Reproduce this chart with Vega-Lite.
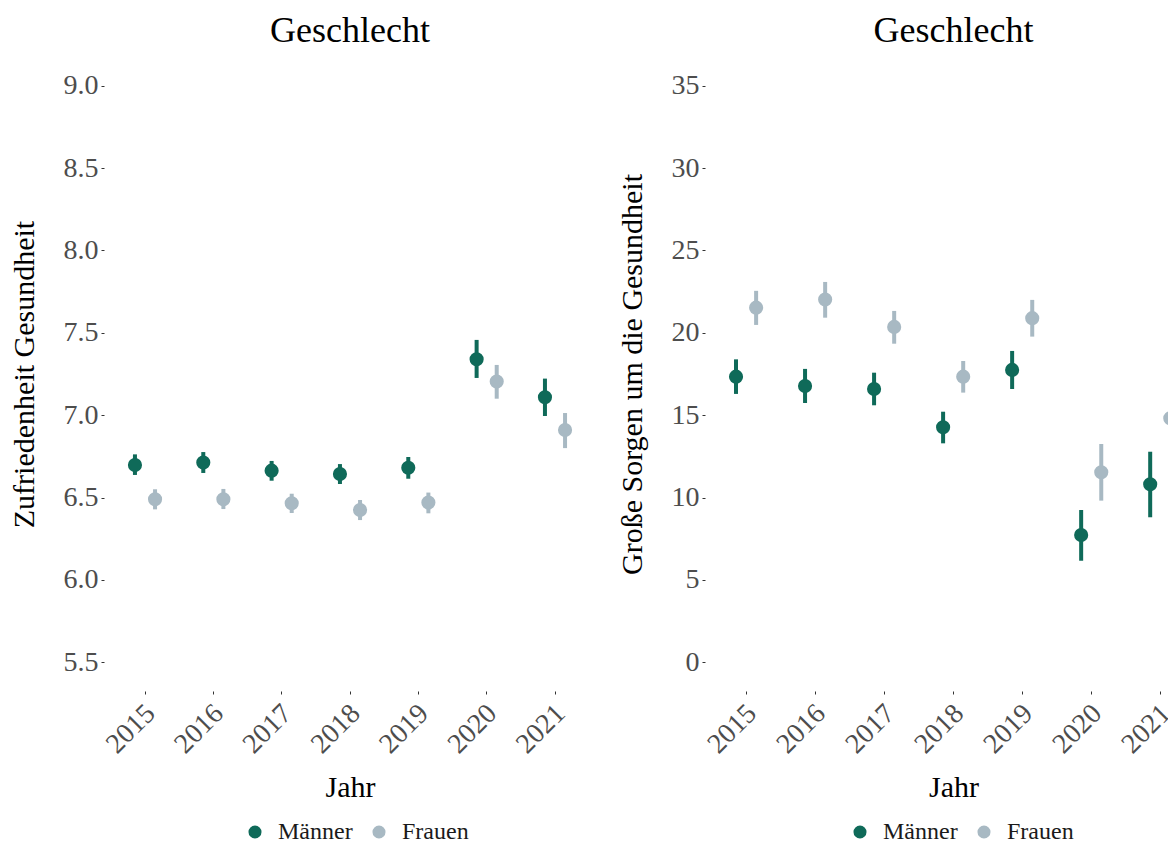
{
  "$schema": "https://vega.github.io/schema/vega-lite/v6.json",
  "background": "white",
  "padding": {"left": 9, "top": 13, "right": 0, "bottom": 0},
  "spacing": 21,
  "config": {
    "view": {"stroke": null},
    "font": "Liberation Serif",
    "style": {"guide-label": {"font": "Liberation Serif"}, "guide-title": {"font": "Liberation Serif"}, "group-title": {"font": "Liberation Serif"}},
    "axis": {
      "domain": false, "grid": false, "ticks": true, "tickSize": 3, "tickColor": "#333333", "tickWidth": 1,
      "labelColor": "#4D4D4D", "labelFontSize": 28, "labelFont": "Liberation Serif",
      "titleFontSize": 30, "titleFontWeight": "normal", "titleColor": "#000000", "titleFont": "Liberation Serif"
    },
    "axisX": {"labelAngle": -45, "labelAlign": "right", "labelBaseline": "top", "labelPadding": 5, "labelOffset": -4, "titlePadding": 14},
    "axisY": {"labelPadding": 3, "titlePadding": 24},
    "title": {"fontSize": 36, "font": "Liberation Serif", "fontWeight": "normal", "color": "#000000", "anchor": "middle", "offset": 7},
    "legend": {"labelFont": "Liberation Serif", "labelFontSize": 24, "labelColor": "#1A1A1A", "title": null}
  },
  "datasets": {
    "zuf": [
      {"Jahr": "2015", "Geschlecht": "Männer", "wert": 6.697, "lo": 6.637, "hi": 6.762},
      {"Jahr": "2016", "Geschlecht": "Männer", "wert": 6.712, "lo": 6.649, "hi": 6.776},
      {"Jahr": "2017", "Geschlecht": "Männer", "wert": 6.663, "lo": 6.602, "hi": 6.722},
      {"Jahr": "2018", "Geschlecht": "Männer", "wert": 6.643, "lo": 6.582, "hi": 6.703},
      {"Jahr": "2019", "Geschlecht": "Männer", "wert": 6.681, "lo": 6.614, "hi": 6.746},
      {"Jahr": "2020", "Geschlecht": "Männer", "wert": 7.339, "lo": 7.226, "hi": 7.457},
      {"Jahr": "2021", "Geschlecht": "Männer", "wert": 7.109, "lo": 6.995, "hi": 7.222},
      {"Jahr": "2015", "Geschlecht": "Frauen", "wert": 6.489, "lo": 6.428, "hi": 6.55},
      {"Jahr": "2016", "Geschlecht": "Frauen", "wert": 6.489, "lo": 6.43, "hi": 6.552},
      {"Jahr": "2017", "Geschlecht": "Frauen", "wert": 6.465, "lo": 6.406, "hi": 6.523},
      {"Jahr": "2018", "Geschlecht": "Frauen", "wert": 6.424, "lo": 6.363, "hi": 6.485},
      {"Jahr": "2019", "Geschlecht": "Frauen", "wert": 6.469, "lo": 6.404, "hi": 6.53},
      {"Jahr": "2020", "Geschlecht": "Frauen", "wert": 7.204, "lo": 7.1, "hi": 7.305},
      {"Jahr": "2021", "Geschlecht": "Frauen", "wert": 6.91, "lo": 6.8, "hi": 7.013}
    ],
    "sorgen": [
      {"Jahr": "2015", "Geschlecht": "Männer", "wert": 17.34, "lo": 16.29, "hi": 18.39},
      {"Jahr": "2016", "Geschlecht": "Männer", "wert": 16.77, "lo": 15.74, "hi": 17.81},
      {"Jahr": "2017", "Geschlecht": "Männer", "wert": 16.59, "lo": 15.6, "hi": 17.58},
      {"Jahr": "2018", "Geschlecht": "Männer", "wert": 14.26, "lo": 13.29, "hi": 15.21},
      {"Jahr": "2019", "Geschlecht": "Männer", "wert": 17.75, "lo": 16.59, "hi": 18.9},
      {"Jahr": "2020", "Geschlecht": "Männer", "wert": 7.72, "lo": 6.16, "hi": 9.24},
      {"Jahr": "2021", "Geschlecht": "Männer", "wert": 10.8, "lo": 8.8, "hi": 12.78},
      {"Jahr": "2015", "Geschlecht": "Frauen", "wert": 21.53, "lo": 20.48, "hi": 22.55},
      {"Jahr": "2016", "Geschlecht": "Frauen", "wert": 22.02, "lo": 20.92, "hi": 23.09},
      {"Jahr": "2017", "Geschlecht": "Frauen", "wert": 20.36, "lo": 19.34, "hi": 21.33},
      {"Jahr": "2018", "Geschlecht": "Frauen", "wert": 17.34, "lo": 16.37, "hi": 18.29},
      {"Jahr": "2019", "Geschlecht": "Frauen", "wert": 20.89, "lo": 19.77, "hi": 22.0},
      {"Jahr": "2020", "Geschlecht": "Frauen", "wert": 11.53, "lo": 9.81, "hi": 13.25},
      {"Jahr": "2021", "Geschlecht": "Frauen", "wert": 14.81, "lo": 13.9, "hi": 15.7}
    ]
  },
  "resolve": {"scale": {"color": "independent", "y": "independent", "x": "independent"}, "legend": {"color": "independent"}},
  "hconcat": [
    {
      "title": "Geschlecht",
      "width": 492,
      "height": 634,
      "data": {"name": "zuf"},
      "encoding": {
        "x": {"field": "Jahr", "type": "ordinal", "title": "Jahr", "scale": {"type": "band", "paddingInner": 0, "paddingOuter": 0.1}, "axis": {"labelFont": "Liberation Serif"}},
        "xOffset": {"field": "Geschlecht", "type": "nominal", "scale": {"domain": ["Männer", "Frauen"], "paddingInner": 0, "paddingOuter": 0.7}},
        "color": {"field": "Geschlecht", "type": "nominal", "scale": {"domain": ["Männer", "Frauen"], "range": ["#0F6A59", "#A8B9C3"]}, "legend": {"orient": "none", "direction": "horizontal", "legendX": 139, "legendY": 763, "symbolSize": 170, "symbolType": "circle", "symbolStrokeWidth": 0, "symbolOpacity": 1, "columnPadding": 14, "labelOffset": 11}}
      },
      "layer": [
        {
          "mark": {"type": "rule", "strokeWidth": 4},
          "encoding": {
            "y": {"field": "lo", "type": "quantitative", "title": "Zufriedenheit Gesundheit", "scale": {"domain": [5.325, 9.175], "nice": false, "zero": false}, "axis": {"values": [5.5, 6, 6.5, 7, 7.5, 8, 8.5, 9], "format": ".1f", "labelFont": "Liberation Serif"}},
            "y2": {"field": "hi"}
          }
        },
        {
          "mark": {"type": "point", "filled": true, "opacity": 1, "size": 200, "shape": "circle"},
          "encoding": {
            "y": {"field": "wert", "type": "quantitative"}
          }
        }
      ]
    },
    {
      "title": "Geschlecht",
      "width": 497,
      "height": 634,
      "data": {"name": "sorgen"},
      "encoding": {
        "x": {"field": "Jahr", "type": "ordinal", "title": "Jahr", "scale": {"type": "band", "paddingInner": 0, "paddingOuter": 0.1}, "axis": {"labelFont": "Liberation Serif"}},
        "xOffset": {"field": "Geschlecht", "type": "nominal", "scale": {"domain": ["Männer", "Frauen"], "paddingInner": 0, "paddingOuter": 0.72}},
        "color": {"field": "Geschlecht", "type": "nominal", "scale": {"domain": ["Männer", "Frauen"], "range": ["#0F6A59", "#A8B9C3"]}, "legend": {"orient": "none", "direction": "horizontal", "legendX": 143, "legendY": 763, "symbolSize": 170, "symbolType": "circle", "symbolStrokeWidth": 0, "symbolOpacity": 1, "columnPadding": 14, "labelOffset": 11}}
      },
      "layer": [
        {
          "mark": {"type": "rule", "strokeWidth": 4},
          "encoding": {
            "y": {"field": "lo", "type": "quantitative", "title": "Große Sorgen um die Gesundheit", "scale": {"domain": [-1.75, 36.75], "nice": false, "zero": false}, "axis": {"values": [0, 5, 10, 15, 20, 25, 30, 35], "format": "d", "labelFont": "Liberation Serif"}},
            "y2": {"field": "hi"}
          }
        },
        {
          "mark": {"type": "point", "filled": true, "opacity": 1, "size": 200, "shape": "circle"},
          "encoding": {
            "y": {"field": "wert", "type": "quantitative"}
          }
        }
      ]
    }
  ]
}
